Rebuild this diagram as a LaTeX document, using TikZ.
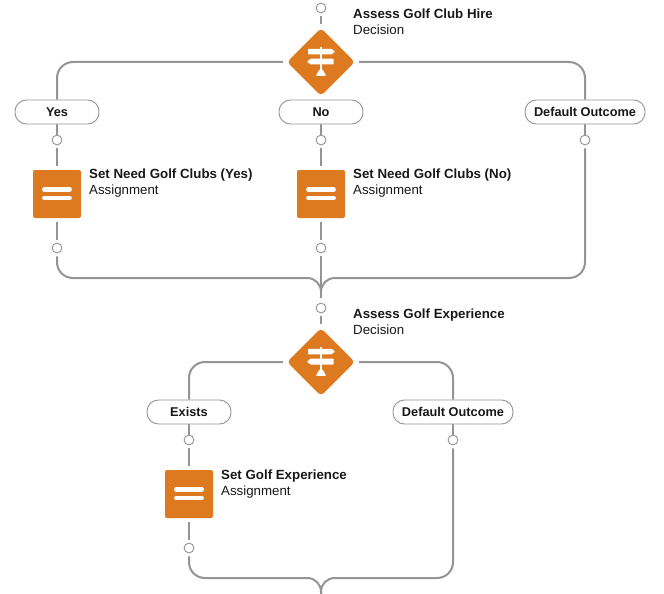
\documentclass[tikz,border=0pt]{standalone}
\usepackage{fontspec}
\setmainfont{Liberation Sans}
\usetikzlibrary{shapes.geometric,backgrounds}
\definecolor{flowor}{HTML}{DD7A1F}
\definecolor{flowln}{HTML}{949494}
\definecolor{flowtx}{HTML}{181818}
\newcommand{\signicon}[1]{%
  \begin{scope}[shift={(#1)}]
    \fill[white] (-1.2,-15) rectangle (1.2,8);
    \fill[white,rounded corners=0.5pt] (-13,-13.2) -- (10.5,-13.2) -- (14,-10.4) -- (10.5,-7.6) -- (-13,-7.6) -- cycle;
    \fill[white,rounded corners=0.5pt] (12.5,-3.3) -- (-10.5,-3.3) -- (-14,-0.4) -- (-10.5,2.5) -- (12.5,2.5) -- cycle;
    \fill[white,rounded corners=0.8pt] (-5.2,13.8) -- (-1.6,7.5) -- (1.6,7.5) -- (5.2,13.8) -- cycle;
  \end{scope}}
\newcommand{\eqicon}[1]{%
  \begin{scope}[shift={(#1)}]
    \draw[white,line width=4.2pt,line cap=round] (-12.8,-4.6) -- (12.8,-4.6);
    \draw[white,line width=4.2pt,line cap=round] (-12.8,3.9) -- (12.8,3.9);
  \end{scope}}
\tikzset{
  conn/.style={draw=flowln,line width=2pt},
  bentconn/.style={conn,rounded corners=16pt},
  port/.style={circle,draw=flowln,line width=0.9pt,fill=white,minimum size=9.8pt,inner sep=0pt},
  pill/.style={rectangle,rounded corners=11.5pt,draw=flowln,line width=0.9pt,fill=white,text=flowtx,minimum height=24pt,inner sep=0pt,font=\fontsize{12.75}{14}\selectfont\bfseries},
  decisionbox/.style={diamond,aspect=1,fill=flowor,rounded corners=4pt,minimum width=68pt,minimum height=68pt,inner sep=0pt},
  assignbox/.style={rectangle,fill=flowor,rounded corners=2pt,minimum size=48pt,inner sep=0pt},
  lab/.style={anchor=west,inner sep=0pt,align=left,text=flowtx,font=\fontsize{13.3}{16}\selectfont},
}
\begin{document}
\begin{tikzpicture}[x=1pt,y=-1pt]
\useasboundingbox (0,0) rectangle (664,594);
\coordinate (m1) at (321,292);
\coordinate (m2) at (321,592);
\coordinate (c1l) at (57,62);
\coordinate (c1r) at (585,62);
\coordinate (c2l) at (189,362);
\coordinate (c2r) at (453,362);
\node[decisionbox] (d1) at (321,62) {};
\node[decisionbox] (d2) at (321,362) {};
\node[pill,minimum width=84pt] (yes) at (57,112) {Yes};
\node[pill,minimum width=84pt] (no) at (321,112) {No};
\node[pill,minimum width=120pt] (def1) at (585,112) {Default Outcome};
\node[pill,minimum width=84pt] (exists) at (189,412) {Exists};
\node[pill,minimum width=120pt] (def2) at (453,412) {Default Outcome};
\node[assignbox] (a1) at (57,194) {};
\node[assignbox] (a2) at (321,194) {};
\node[assignbox] (a3) at (189,494) {};
\node[port] (p0) at (321,8) {};
\node[port] (p1) at (57,140) {};
\node[port] (p2) at (321,140) {};
\node[port] (p3) at (585,140) {};
\node[port] (p4) at (57,248) {};
\node[port] (p5) at (321,248) {};
\node[port] (p6) at (321,308) {};
\node[port] (p7) at (189,440) {};
\node[port] (p8) at (453,440) {};
\node[port] (p9) at (189,548) {};
\coordinate (end) at (321,594);
\begin{scope}[on background layer]
\draw[conn,shorten <=3pt,shorten >=4pt] (p0) -- (d1);
\draw[bentconn,shorten <=4pt] (d1.west) -- (c1l) -- (yes.north);
\draw[bentconn,shorten <=4pt] (d1.east) -- (c1r) -- (def1.north);
\draw[conn] (yes) -- (p1);
\draw[conn] (no) -- (p2);
\draw[conn] (def1) -- (p3);
\draw[conn,shorten <=3pt,shorten >=4pt] (p1) -- (a1);
\draw[conn,shorten <=3pt,shorten >=4pt] (p2) -- (a2);
\draw[conn,shorten <=4pt,shorten >=3pt] (a1) -- (p4);
\draw[conn,shorten <=4pt,shorten >=3pt] (a2) -- (p5);
\draw[conn,shorten <=3pt,shorten >=5pt] (p5) -- (p6);
\draw[conn,shorten <=3pt] (p4) -- (57,262) .. controls (57,271) and (64,278) .. (73,278) -- (307,278) .. controls (315,278) and (321,284) .. (m1);
\draw[conn,shorten <=3pt] (p3) -- (585,262) .. controls (585,271) and (578,278) .. (569,278) -- (335,278) .. controls (327,278) and (321,284) .. (m1);
\draw[conn,shorten <=3pt,shorten >=4pt] (p6) -- (d2);
\draw[bentconn,shorten <=4pt] (d2.west) -- (c2l) -- (exists.north);
\draw[bentconn,shorten <=4pt] (d2.east) -- (c2r) -- (def2.north);
\draw[conn] (exists) -- (p7);
\draw[conn] (def2) -- (p8);
\draw[conn,shorten <=3pt,shorten >=4pt] (p7) -- (a3);
\draw[conn,shorten <=4pt,shorten >=3pt] (a3) -- (p9);
\draw[conn,shorten <=3pt] (p9) -- (189,562) .. controls (189,571) and (196,578) .. (205,578) -- (307,578) .. controls (315,578) and (321,584) .. (m2) -- (end);
\draw[conn,shorten <=3pt] (p8) -- (453,562) .. controls (453,571) and (446,578) .. (437,578) -- (335,578) .. controls (327,578) and (321,584) .. (m2) -- (end);
\end{scope}
\signicon{321,62}
\signicon{321,362}
\eqicon{57,194}
\eqicon{321,194}
\eqicon{189,494}
\node[lab] (t1) at (353,22) {\textbf{Assess Golf Club Hire}\\Decision};
\node[lab] (t2) at (89,183.5) {\textbf{Set Need Golf Clubs (Yes)}\\Assignment};
\node[lab] (t3) at (353,183.5) {\textbf{Set Need Golf Clubs (No)}\\Assignment};
\node[lab] (t4) at (353,322) {\textbf{Assess Golf Experience}\\Decision};
\node[lab] (t5) at (221,484) {\textbf{Set Golf Experience}\\Assignment};
\end{tikzpicture}
\end{document}
